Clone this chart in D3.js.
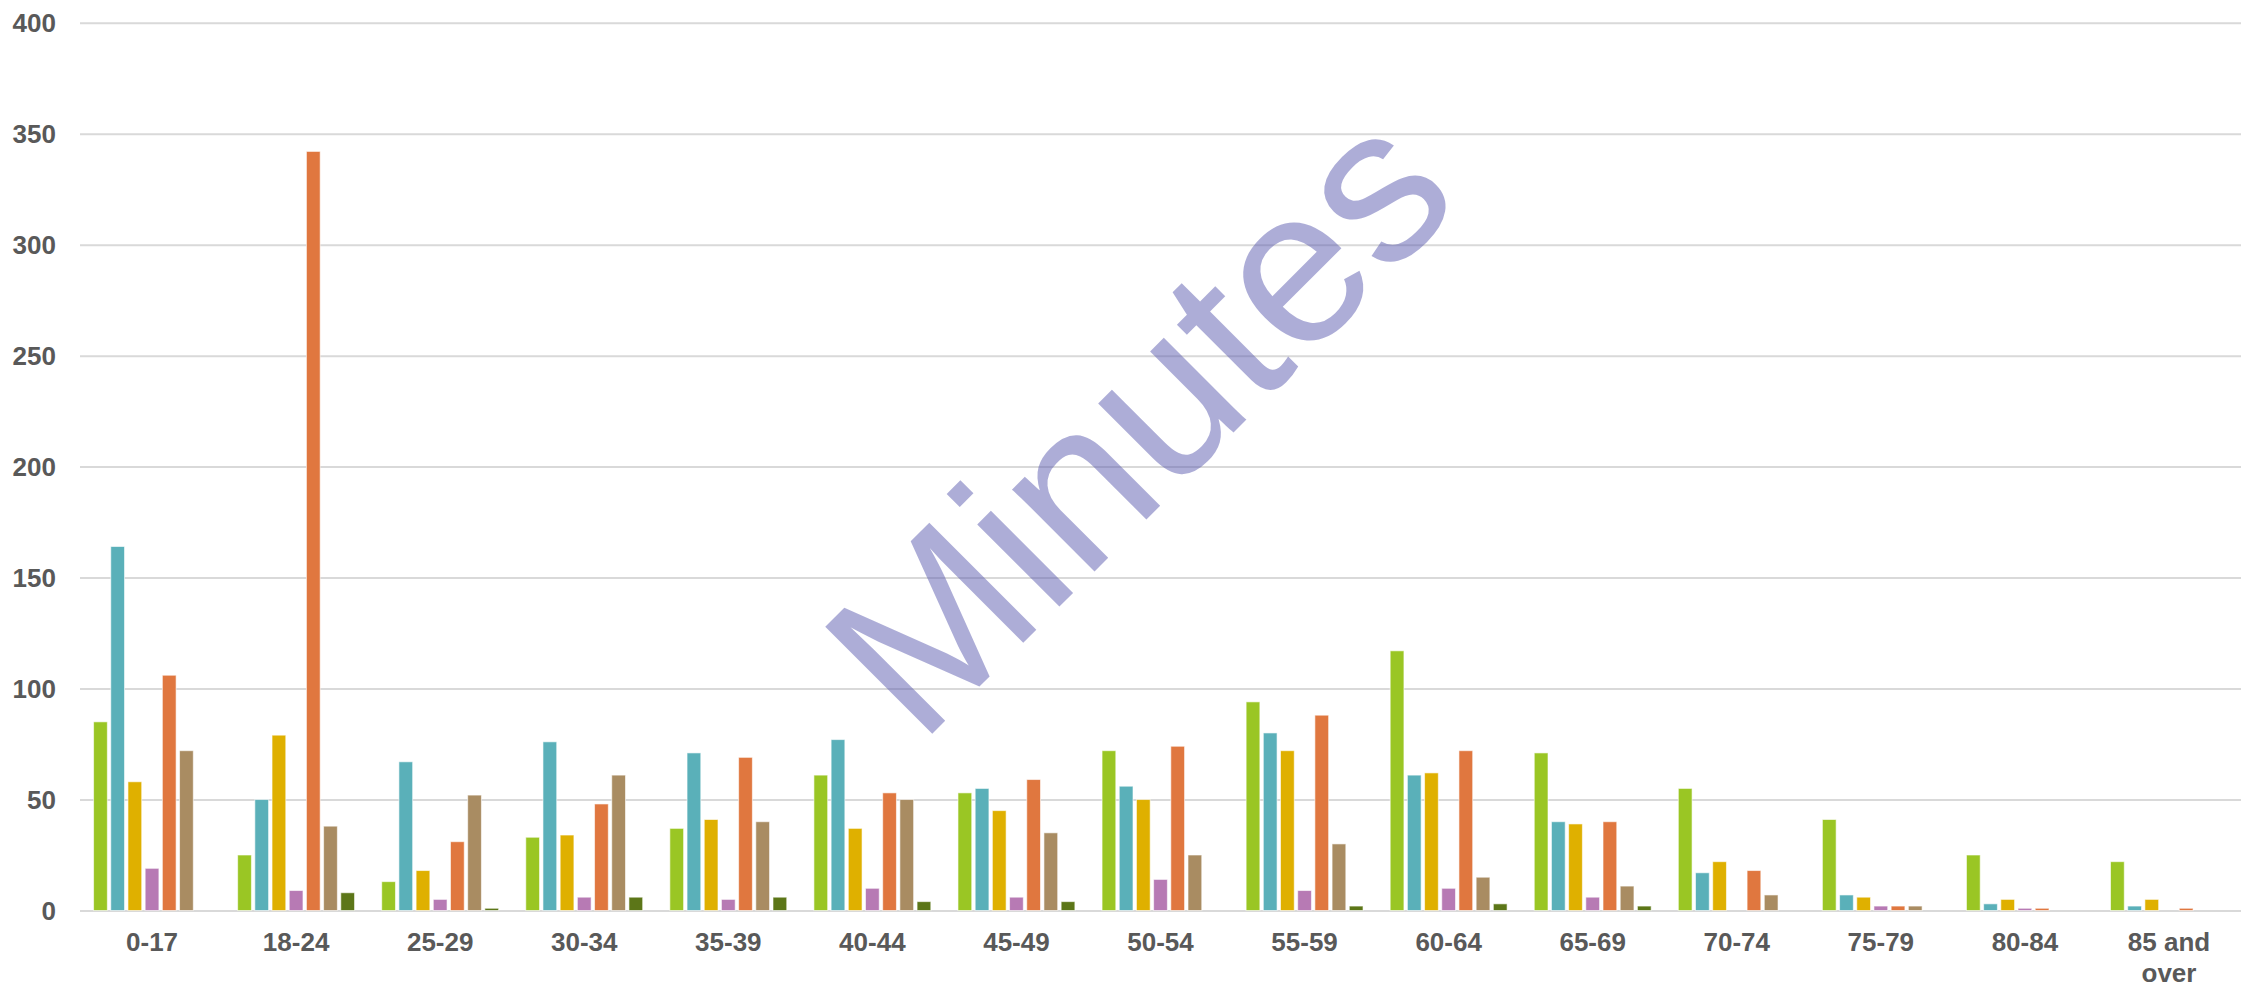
<!DOCTYPE html>
<html>
<head>
<meta charset="utf-8">
<script src="https://cdn.jsdelivr.net/npm/d3@7"></script>
<style>
  html, body { margin: 0; padding: 0; background: #fff; }
  svg { display: block; font-family: "Liberation Sans", Arial, sans-serif; }
  .axis text { font-size: 26px; font-weight: bold; fill: #595959; }
  .grid line { stroke: #d9d9d9; stroke-width: 2; }
</style>
</head>
<body>
<svg id="svg" width="2241" height="986"></svg>
<script>
/*jshint esversion: 6 */

const categories = ["0-17", "18-24", "25-29", "30-34", "35-39", "40-44", "45-49",
    "50-54", "55-59", "60-64", "65-69", "70-74", "75-79", "80-84", "85 and over"];
const seriesNames = ["s1", "s2", "s3", "s4", "s5", "s6", "s7"];
const seriesColors = ["#9ac624", "#5ab0b9", "#dfb000", "#b77ab4", "#e0773f", "#a98c62", "#5c7618"];

// one array per series, in category order
const s1 = [85, 25, 13, 33, 37, 61, 53, 72, 94, 117, 71, 55, 41, 25, 22];
const s2 = [164, 50, 67, 76, 71, 77, 55, 56, 80, 61, 40, 17, 7, 3, 2];
const s3 = [58, 79, 18, 34, 41, 37, 45, 50, 72, 62, 39, 22, 6, 5, 5];
const s4 = [19, 9, 5, 6, 5, 10, 6, 14, 9, 10, 6, 0, 2, 1, 0];
const s5 = [106, 342, 31, 48, 69, 53, 59, 74, 88, 72, 40, 18, 2, 1, 1];
const s6 = [72, 38, 52, 61, 40, 50, 35, 25, 30, 15, 11, 7, 2, 0, 0];
const s7 = [0, 8, 1, 6, 6, 4, 4, 0, 2, 3, 2, 0, 0, 0, 0];
const seriesValues = [s1, s2, s3, s4, s5, s6, s7];

const yTicks = [0, 50, 100, 150, 200, 250, 300, 350, 400];
const watermark = "Minutes";

const width = 2241;
const height = 986;
const margin = {top: 22.7, left: 80, bottom: 75.5, right: 0};

drawChart();

function drawChart() {
    const svg = d3.select("#svg");

    const x0 = d3.scaleBand()
        .domain(categories)
        .range([margin.left, width - margin.right]);

    const x1 = d3.scaleBand()
        .domain(seriesNames)
        .range([0, x0.bandwidth()])
        .paddingInner(0.2)
        .paddingOuter(0.79);

    const yScale = d3.scaleLinear()
        .domain([0, 400])
        .range([height - margin.bottom, margin.top]);

    // gridlines
    svg.append("g")
        .attr("class", "grid")
        .attr("transform", "translate(" + [margin.left, 0] + ")")
        .call(d3.axisLeft(yScale)
            .tickValues(yTicks)
            .tickSize(-(width - margin.left - margin.right))
            .tickFormat(""))
        .call(g => g.select(".domain").remove());

    // y labels
    svg.append("g")
        .attr("class", "y axis")
        .attr("transform", "translate(" + [margin.left, 0] + ")")
        .call(d3.axisLeft(yScale)
            .tickValues(yTicks)
            .tickSize(0)
            .tickPadding(24))
        .call(g => g.select(".domain").remove())
        .selectAll("text")
        .attr("dy", "0.35em");

    // bars
    const rows = categories.map((c, i) => ({
        cat: c,
        vals: seriesNames.map((s, j) => ({key: s, value: seriesValues[j][i], color: seriesColors[j]}))
    }));

    svg.append("g")
        .selectAll("g")
        .data(rows)
        .join("g")
        .attr("transform", d => "translate(" + [x0(d.cat), 0] + ")")
        .selectAll("rect")
        .data(d => d.vals.filter(v => v.value > 0))
        .join("rect")
        .attr("x", v => x1(v.key))
        .attr("width", x1.bandwidth())
        .attr("y", v => yScale(v.value))
        .attr("height", v => yScale(0) - yScale(v.value))
        .attr("fill", v => v.color)
        .attr("stroke", "#fff")
        .attr("stroke-opacity", 0.6)
        .attr("stroke-width", 1);

    // x labels
    const xAxis = svg.append("g")
        .attr("class", "x axis")
        .attr("transform", "translate(" + [0, yScale(0)] + ")")
        .call(d3.axisBottom(x0).tickSize(0))
        .call(g => g.select(".domain").remove());

    xAxis.selectAll("text")
        .attr("y", 40)
        .attr("dy", null)
        .each(function(d) {
            const t = d3.select(this);
            if (d === "85 and over") {
                t.text(null);
                t.append("tspan").attr("x", 0).attr("y", 40).text("85 and");
                t.append("tspan").attr("x", 0).attr("y", 71).text("over");
            }
        });

    // watermark
    svg.append("text")
        .attr("transform", "translate(919.5,746.5) rotate(-45)")
        .attr("font-size", 220)
        .attr("fill", "rgb(91,91,176)")
        .attr("fill-opacity", 0.5)
        .text(watermark);
}
</script>
</body>
</html>
